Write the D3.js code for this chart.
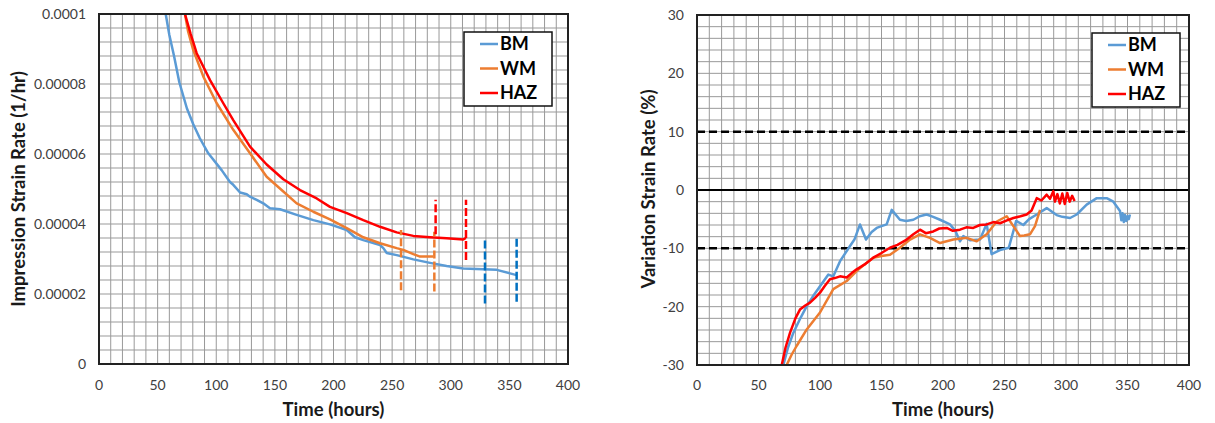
<!DOCTYPE html>
<html>
<head>
<meta charset="utf-8">
<script src="https://cdn.jsdelivr.net/npm/d3@7"></script>
<style>
  body { margin: 0; background: #fff; }
  svg { display: block; font-family: Lato, "Open Sans", sans-serif; }
  .tick-label { font-size: 14px; fill: #404040; }
  .axis-title { font-size: 18.5px; font-weight: bold; fill: #1a1a1a; }
  .legend-text { font-size: 18px; font-weight: bold; fill: #000; }
</style>
</head>
<body>
<div id="wrapper"></div>
<script>
/*step 1: the data*/
const seriesNames = ["BM", "WM", "HAZ"];
const seriesColors = ["#5B9BD5", "#ED7D31", "#FF0000"];

// left chart: impression strain rate (1/hr) against time (hours)
const bmTime = [56.9, 60, 64, 68.5, 75, 80.4, 86, 93.2, 104.6, 111.7, 114.5, 120.3, 126, 128.8, 134.5, 140.1, 145.8, 154.4, 168.6, 182.8, 197, 211.3, 218.3, 225.4, 239.7, 242.5, 245.4, 253.9, 268.1, 282.3, 296.5, 310.7, 327.8, 339.2, 350.5, 356.2];
const bmRate = [0.0001, 0.000094, 0.000088, 0.0000805, 0.000073, 0.0000685, 0.0000645, 0.0000602, 0.0000554, 0.000052, 0.0000512, 0.000049, 0.0000485, 0.0000478, 0.0000469, 0.0000459, 0.0000445, 0.0000442, 0.0000426, 0.0000411, 0.0000399, 0.0000383, 0.0000362, 0.0000354, 0.000034, 0.0000331, 0.0000317, 0.0000311, 0.0000299, 0.0000289, 0.000028, 0.0000273, 0.0000271, 0.0000269, 0.0000259, 0.0000254];
const wmTime = [73.3, 76, 80.4, 89, 100.4, 114.5, 128.8, 143, 157.2, 168.6, 182.8, 197, 211.3, 225.4, 239.7, 253.9, 259.5, 268.1, 273.8, 285.1];
const wmRate = [0.0001, 0.000095, 0.0000897, 0.0000821, 0.0000745, 0.0000669, 0.0000602, 0.0000535, 0.0000493, 0.0000459, 0.0000435, 0.0000413, 0.0000388, 0.0000362, 0.0000345, 0.0000331, 0.0000326, 0.0000314, 0.0000307, 0.0000307];
const hazTime = [73.3, 78, 83.3, 94.7, 106, 114.5, 128.8, 143, 157.2, 171.4, 185.7, 197, 211.3, 225.4, 239.7, 253.9, 268.1, 282.3, 296.5, 310.7, 313];
const hazRate = [0.0001, 0.0000945, 0.0000888, 0.0000811, 0.0000745, 0.0000697, 0.0000621, 0.000057, 0.0000528, 0.0000497, 0.0000473, 0.0000449, 0.0000431, 0.0000411, 0.0000392, 0.0000376, 0.0000366, 0.0000362, 0.0000359, 0.0000356, 0.000036];

// dashed vertical markers on the left chart
const markerTime = [257.6, 286, 287.1, 313, 329.2, 356.2];
const markerLow = [0.0000211, 0.0000207, 0.0000371, 0.0000297, 0.0000173, 0.0000178];
const markerHigh = [0.0000383, 0.0000378, 0.0000469, 0.0000469, 0.0000354, 0.0000359];
const markerColors = ["#ED7D31", "#ED7D31", "#FF0000", "#FF0000", "#0070C0", "#0070C0"];

// right chart: variation strain rate (%) against time (hours)
const bmVarTime = [70.2, 74, 78.3, 84, 89.2, 95, 100, 106.8, 110.8, 116.3, 124.4, 128, 132.5, 137.4, 142, 146.1, 150, 154.2, 158.3, 165, 170, 175.9, 181, 186.7, 192, 197.6, 205.7, 210, 213.8, 216.5, 222, 230.1, 235.5, 239.5, 246.3, 253.5, 259.5, 265.3, 270, 276.2, 284.3, 292.4, 297, 303.3, 308.7, 316.8, 325, 333.1, 338.5, 343.9, 345, 346, 347, 348, 349, 350, 351, 352];
const bmVar = [-30, -27, -24.5, -22, -19.9, -18, -16.5, -14.5, -14.8, -12.2, -9.6, -8.5, -5.9, -8.5, -7.2, -6.5, -6.2, -5.9, -3.4, -5.1, -5.3, -5.1, -4.5, -4.2, -4.6, -5.1, -5.9, -7, -8.8, -7.9, -8.6, -8.5, -5.8, -11, -10.3, -9.9, -5.3, -6, -5, -4.2, -3.1, -4.3, -4.6, -4.8, -4.2, -2.5, -1.4, -1.4, -2, -3.6, -5.2, -4, -5.5, -4.3, -5.3, -4.5, -5, -4.2];
const wmVarTime = [72.9, 77, 81.1, 89.2, 100, 110.8, 121.7, 129.8, 136, 143.3, 150, 156.9, 165, 173.2, 181.3, 189.4, 197.6, 208.4, 219.3, 227.4, 235.5, 243.7, 251.8, 257.2, 262.6, 266, 270.7, 274.8, 278.9];
const wmVar = [-30, -28.2, -26.7, -23.9, -21, -17, -15.6, -13.9, -12.8, -11.6, -11.3, -11.1, -9.9, -8.5, -7.6, -8.2, -9.1, -8.5, -8.2, -8.8, -7.6, -5.4, -4.5, -6.2, -7.9, -7.8, -7.6, -6.2, -3.4];
const hazVarTime = [68.9, 72, 75.6, 80, 83.7, 88, 91.9, 96, 100, 104, 108.1, 112, 116.3, 121.7, 126, 129.8, 136, 143.3, 150, 156.9, 163, 170.5, 175.9, 181.3, 186, 192.1, 197, 203, 208, 213.8, 219, 224.6, 230, 235.5, 241, 246.3, 252, 257.2, 263, 268, 272, 276.2, 280, 284.3, 287, 289.7, 291, 293, 295, 297, 299, 301, 303, 305, 307];
const hazVar = [-30, -27, -24.5, -22, -20.5, -19.8, -19.3, -18.5, -17.6, -16.4, -15.3, -15.1, -14.8, -15, -14.2, -13.6, -12.8, -11.6, -10.8, -9.9, -9.4, -8.5, -7.6, -6.8, -7.4, -7.1, -6.6, -6.5, -7, -6.8, -6.4, -6.5, -6, -5.9, -5.5, -5.7, -5.2, -4.8, -4.5, -4.2, -3.5, -1.4, -1.8, -0.8, -1.5, -0.2, -2, -0.7, -2.3, -0.6, -2.4, -0.5, -2, -1, -1.9];

// reference lines on the right chart (0 is solid, the others dashed)
const refLevels = [10, 0, -10];

// axis ticks
const timeTicks = [0, 50, 100, 150, 200, 250, 300, 350, 400];
const rateTicks = [0, 0.00002, 0.00004, 0.00006, 0.00008, 0.0001];
const rateTickLabels = ["0", "0.00002", "0.00004", "0.00006", "0.00008", "0.0001"];
const varTicks = [-30, -20, -10, 0, 10, 20, 30];

/*step 2: make the canvas*/
const svg = d3.select("#wrapper")
  .append("svg")
  .attr("width", 1215)
  .attr("height", 423);

/*step 3: one function draws a panel, called twice*/
function drawPanel(p) {
  const xScale = d3.scaleLinear().domain([0, 400]).range([p.left, p.right]);
  const yScale = d3.scaleLinear().domain(p.yDomain).range([p.bottom, p.top]);

  const g = svg.append("g");

  g.append("clipPath").attr("id", p.id + "clip")
    .append("rect")
    .attr("x", p.left).attr("y", p.top)
    .attr("width", p.right - p.left).attr("height", p.bottom - p.top);

  // grid lines
  g.selectAll(".vgrid")
    .data(d3.range(0, 401, 10))
    .enter().append("line")
    .attr("x1", d => xScale(d)).attr("x2", d => xScale(d))
    .attr("y1", p.top).attr("y2", p.bottom)
    .attr("stroke", "#999").attr("stroke-width", 1);

  g.selectAll(".hgrid")
    .data(d3.range(0, p.gridCount + 1))
    .enter().append("line")
    .attr("x1", p.left).attr("x2", p.right)
    .attr("y1", d => yScale(p.yDomain[0] + d * p.gridStep))
    .attr("y2", d => yScale(p.yDomain[0] + d * p.gridStep))
    .attr("stroke", "#999").attr("stroke-width", 1);

  // reference lines (right panel only)
  g.selectAll(".ref")
    .data(p.refs || [])
    .enter().append("line")
    .attr("x1", p.left).attr("x2", p.right)
    .attr("y1", d => yScale(d)).attr("y2", d => yScale(d))
    .attr("stroke", "#000")
    .attr("stroke-width", d => d === 0 ? 2 : 2.5)
    .attr("stroke-dasharray", d => d === 0 ? null : "8,4");

  // data lines
  const line = d3.line()
    .x(d => xScale(d[0]))
    .y(d => yScale(d[1]));

  p.series.forEach(function (s, i) {
    g.append("path")
      .datum(d3.zip(s.time, s.value))
      .attr("clip-path", "url(#" + p.id + "clip)")
      .attr("fill", "none")
      .attr("stroke", seriesColors[i])
      .attr("stroke-width", 2.5)
      .attr("stroke-linejoin", "round")
      .attr("d", line);
  });

  // dashed vertical markers (left panel only)
  if (p.markers) {
    g.selectAll(".marker")
      .data(p.markers.time)
      .enter().append("line")
      .attr("x1", d => xScale(d)).attr("x2", d => xScale(d))
      .attr("y1", (d, i) => yScale(p.markers.low[i]))
      .attr("y2", (d, i) => yScale(p.markers.high[i]))
      .attr("stroke", (d, i) => p.markers.colors[i])
      .attr("stroke-width", 2.5)
      .attr("stroke-dasharray", "8,3");
  }

  // frame
  g.append("rect")
    .attr("x", p.left).attr("y", p.top)
    .attr("width", p.right - p.left).attr("height", p.bottom - p.top)
    .attr("fill", "none").attr("stroke", "#222").attr("stroke-width", 2);

  // tick labels
  g.selectAll(".xlab")
    .data(timeTicks)
    .enter().append("text")
    .attr("class", "tick-label")
    .attr("x", d => xScale(d))
    .attr("y", 390)
    .attr("text-anchor", "middle")
    .text(d => d);

  g.selectAll(".ylab")
    .data(p.yTicks)
    .enter().append("text")
    .attr("class", "tick-label")
    .attr("x", p.left - 13)
    .attr("y", d => yScale(d))
    .attr("dy", "0.35em")
    .attr("text-anchor", "end")
    .text((d, i) => p.yTickLabels ? p.yTickLabels[i] : d);

  // axis titles
  g.append("text")
    .attr("class", "axis-title")
    .attr("x", (p.left + p.right) / 2)
    .attr("y", 416)
    .attr("text-anchor", "middle")
    .text("Time (hours)");

  g.append("text")
    .attr("class", "axis-title")
    .attr("transform", "translate(" + p.yTitleX + "," + 189 + ") rotate(-90)")
    .attr("text-anchor", "middle")
    .text(p.yTitle);

  // legend
  const lg = g.append("g");
  lg.append("rect")
    .attr("x", p.legendX).attr("y", p.legendY)
    .attr("width", 88).attr("height", 74)
    .attr("fill", "#fff").attr("stroke", "#111").attr("stroke-width", 1.5);

  seriesNames.forEach(function (name, i) {
    const rowY = p.legendY + 12 + i * 24.5;
    lg.append("line")
      .attr("x1", p.legendX + 16).attr("x2", p.legendX + 34)
      .attr("y1", rowY).attr("y2", rowY)
      .attr("stroke", seriesColors[i]).attr("stroke-width", 2.5);
    lg.append("text")
      .attr("class", "legend-text")
      .attr("x", p.legendX + 36)
      .attr("y", rowY)
      .attr("dy", "0.36em")
      .text(name);
  });
}

/*step 4: the two panels*/
drawPanel({
  id: "left",
  left: 99, right: 568, top: 14, bottom: 364,
  yDomain: [0, 0.0001],
  gridStep: 0.000004, gridCount: 25,
  yTicks: rateTicks, yTickLabels: rateTickLabels,
  yTitle: "Impression Strain Rate (1/hr)", yTitleX: 25,
  legendX: 464, legendY: 32,
  series: [
    { time: bmTime, value: bmRate },
    { time: wmTime, value: wmRate },
    { time: hazTime, value: hazRate }
  ],
  markers: { time: markerTime, low: markerLow, high: markerHigh, colors: markerColors }
});

drawPanel({
  id: "right",
  left: 697, right: 1189, top: 15, bottom: 365,
  yDomain: [-30, 30],
  gridStep: 2, gridCount: 30,
  yTicks: varTicks,
  yTitle: "Variation Strain Rate (%)", yTitleX: 655,
  refs: refLevels,
  legendX: 1092, legendY: 33,
  series: [
    { time: bmVarTime, value: bmVar },
    { time: wmVarTime, value: wmVar },
    { time: hazVarTime, value: hazVar }
  ]
});
</script>
</body>
</html>
